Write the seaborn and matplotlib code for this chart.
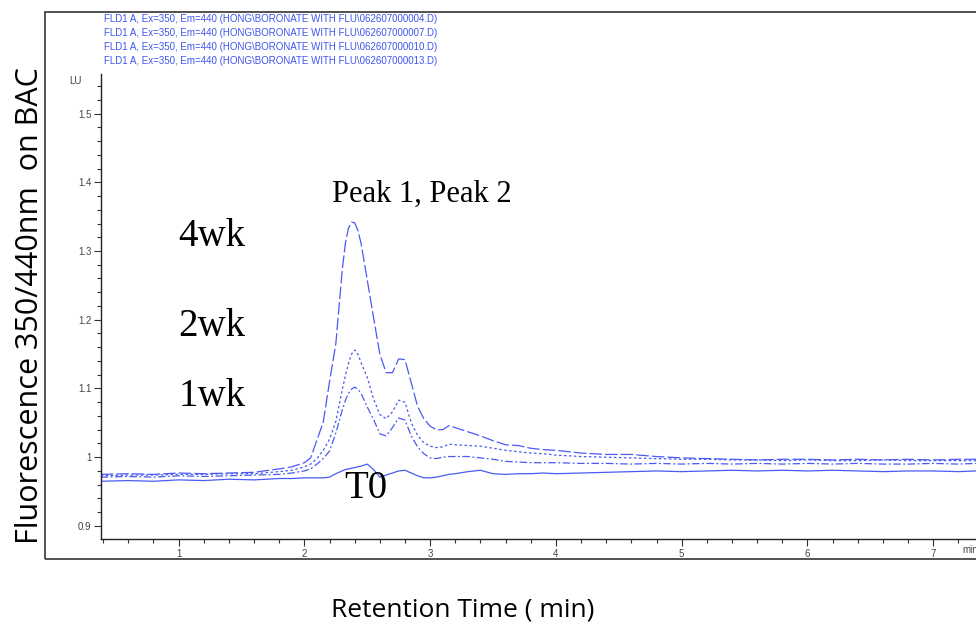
import numpy as np
import pandas as pd
import matplotlib
matplotlib.use("Agg")
import matplotlib.pyplot as plt
import seaborn as sns
from matplotlib.ticker import MultipleLocator, FormatStrFormatter
from matplotlib.patches import Rectangle

# retention time (min)
time_min = [0.38, 0.6, 0.8, 1.0, 1.2, 1.4, 1.6, 1.8, 1.9, 2.0, 2.05, 2.1, 2.15, 2.2, 2.25,
            2.3, 2.325, 2.35, 2.375, 2.4, 2.425, 2.45, 2.5, 2.55, 2.6, 2.65, 2.7, 2.75, 2.8,
            2.85, 2.9, 2.95, 3.0, 3.05, 3.1, 3.15, 3.2, 3.3, 3.4, 3.5, 3.6, 3.7, 3.8, 3.9,
            4.0, 4.2, 4.4, 4.6, 4.8, 5.0, 5.2, 5.4, 5.6, 5.8, 6.0, 6.2, 6.4, 6.6, 6.8, 7.0,
            7.2, 7.34]

wk4 = [0.975, 0.976, 0.975, 0.977, 0.976, 0.977, 0.978, 0.983, 0.986, 0.992, 0.999, 1.025,
       1.051, 1.110, 1.165, 1.270, 1.310, 1.333, 1.342, 1.341, 1.330, 1.312, 1.258, 1.203,
       1.150, 1.123, 1.123, 1.143, 1.142, 1.108, 1.074, 1.056, 1.045, 1.040, 1.040, 1.046,
       1.043, 1.037, 1.031, 1.024, 1.018, 1.017, 1.013, 1.011, 1.010, 1.006, 1.004, 1.004,
       1.001, 0.999, 0.998, 0.997, 0.996, 0.997, 0.997, 0.996, 0.997, 0.996, 0.997, 0.996,
       0.997, 0.997]

wk2 = [0.973, 0.974, 0.974, 0.975, 0.975, 0.976, 0.976, 0.979, 0.981, 0.986, 0.990, 0.998,
       1.010, 1.026, 1.052, 1.097, 1.118, 1.136, 1.150, 1.156, 1.150, 1.138, 1.116, 1.085,
       1.062, 1.056, 1.066, 1.083, 1.080, 1.050, 1.032, 1.021, 1.016, 1.014, 1.015, 1.019,
       1.018, 1.017, 1.016, 1.013, 1.010, 1.008, 1.006, 1.005, 1.003, 1.001, 1.000, 0.999,
       0.998, 0.997, 0.997, 0.996, 0.996, 0.995, 0.996, 0.995, 0.995, 0.996, 0.995, 0.995,
       0.995, 0.995]

wk1 = [0.971, 0.972, 0.971, 0.973, 0.972, 0.973, 0.974, 0.975, 0.977, 0.980, 0.983, 0.990,
       0.998, 1.009, 1.035, 1.068, 1.082, 1.093, 1.099, 1.102, 1.099, 1.093, 1.073, 1.055,
       1.034, 1.031, 1.043, 1.057, 1.054, 1.031, 1.015, 1.005, 0.999, 0.998, 1.000, 1.001,
       1.001, 1.001, 0.999, 0.997, 0.994, 0.993, 0.992, 0.992, 0.992, 0.991, 0.991, 0.990,
       0.991, 0.990, 0.991, 0.990, 0.991, 0.990, 0.991, 0.990, 0.991, 0.990, 0.990, 0.991,
       0.990, 0.991]

t0 = [0.965, 0.966, 0.965, 0.967, 0.966, 0.968, 0.967, 0.969, 0.969, 0.970, 0.970, 0.970,
      0.970, 0.971, 0.976, 0.980, 0.982, 0.983, 0.984, 0.985, 0.986, 0.987, 0.990, 0.982,
      0.971, 0.974, 0.977, 0.980, 0.981, 0.977, 0.973, 0.970, 0.970, 0.971, 0.973, 0.975,
      0.976, 0.979, 0.981, 0.976, 0.975, 0.976, 0.976, 0.977, 0.976, 0.977, 0.978, 0.979,
      0.980, 0.979, 0.980, 0.981, 0.980, 0.981, 0.980, 0.981, 0.980, 0.979, 0.980, 0.980,
      0.979, 0.980]

series_labels = ["4wk", "2wk", "1wk", "T0"]
header_files = ["062607000004.D", "062607000007.D", "062607000010.D", "062607000013.D"]

blue = "#4a5af5"
styles = {
    "4wk": (0, (10, 2.5)),
    "2wk": (0, (2, 2)),
    "1wk": (0, (6, 2, 1.5, 2)),
    "T0": "solid",
}

sns.set_style("ticks")
plt.rcParams["font.family"] = ["Liberation Sans", "DejaVu Sans"]

fig = plt.figure(figsize=(9.76, 6.28), dpi=100)
ax = fig.add_axes([101 / 976, 1 - 539 / 628, 1 - 101 / 976, (539 - 74) / 628])

for name, vals in zip(series_labels, [wk4, wk2, wk1, t0]):
    sns.lineplot(x=time_min, y=vals, ax=ax, color=blue, linewidth=0.9,
                 linestyle=styles[name], estimator=None)

ax.set_xlim(0.383, 7.34)
ax.set_ylim(0.881, 1.5575)
ax.spines["top"].set_visible(False)
ax.spines["right"].set_visible(False)
for s in ["left", "bottom"]:
    ax.spines[s].set_color("#222")
    ax.spines[s].set_linewidth(1.0)

ax.xaxis.set_major_locator(MultipleLocator(1))
ax.xaxis.set_minor_locator(MultipleLocator(0.2))
ax.yaxis.set_major_locator(MultipleLocator(0.1))
ax.yaxis.set_minor_locator(MultipleLocator(0.02))
ax.yaxis.set_major_formatter(FormatStrFormatter("%g"))
ax.tick_params(which="major", length=5, width=0.8, color="#333", labelsize=7,
               labelcolor="#444", pad=2)
ax.tick_params(which="minor", length=3, width=0.8, color="#333")
ax.set_xlabel("")
ax.set_ylabel("")

# instrument annotations
fig.text(75 / 976, 1 - 81 / 628, "LU", fontsize=7, color="#444", ha="center", va="center",
         rotation=0)
fig.text(962 / 976, 1 - 550 / 628, "min", fontsize=7, color="#444", ha="left", va="center")
for i, f in enumerate(header_files):
    fig.text(104 / 976, 1 - (19 + 14 * i) / 628,
             "FLD1 A, Ex=350, Em=440 (HONG\\BORONATE WITH FLU\\" + f + ")",
             fontsize=7, color="#3f55ee", ha="left", va="center")

# peak labels
serif = ["Liberation Serif", "DejaVu Serif"]
ax.text(2.935, 1.3829, "Peak 1, Peak 2", family=serif, fontsize=22, color="black",
        ha="center", va="center")
ax.text(1.265, 1.3217, "4wk", family=serif, fontsize=28, color="black", ha="center", va="center")
ax.text(1.265, 1.1907, "2wk", family=serif, fontsize=28, color="black", ha="center", va="center")
ax.text(1.265, 1.0888, "1wk", family=serif, fontsize=28, color="black", ha="center", va="center")
ax.text(2.49, 0.9549, "T0", family=serif, fontsize=28, color="black", ha="center", va="center")

# outer frame
fig.patches.append(Rectangle((45 / 976, 1 - 558.7 / 628), 1.0, (558.7 - 12) / 628,
                             transform=fig.transFigure, fill=False, edgecolor="#333",
                             linewidth=1.2))

sans = ["Open Sans", "DejaVu Sans"]
fig.text(30 / 976, 1 - 306 / 628, "Fluorescence 350/440nm  on BAC", family=sans,
         fontsize=22, rotation=90, color="black", ha="center", va="center")
fig.text(463 / 976, 1 - 610 / 628, "Retention Time ( min)", family=sans, fontsize=19,
         color="black", ha="center", va="center")

fig.savefig("out.png", dpi=100)
